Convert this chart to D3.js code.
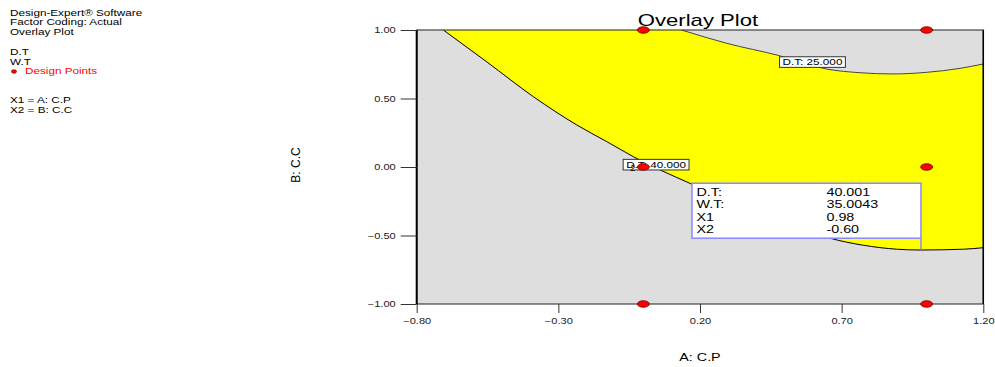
<!DOCTYPE html>
<html>
<head>
<meta charset="utf-8">
<script src="https://cdn.jsdelivr.net/npm/d3@7"></script>
<style>
body { margin: 0; background: #fff; }
svg { display: block; font-family: "Liberation Sans", Arial, sans-serif; }
</style>
</head>
<body>
<svg width="995" height="367"></svg>
<script>
// axis ticks
var xTicks = [-0.80, -0.30, 0.20, 0.70, 1.20];
var yTicks = [-1.00, -0.50, 0.00, 0.50, 1.00];

// design points (coded factors)
var designX = [0, 1, 0, 1, 0, 1];
var designY = [1, 1, 0, 0, -1, -1];
var repX = [0], repY = [0], repText = ["2"];

// D.T = 40 contour (lower edge of the window)
var dt40X = [-0.706, -0.553, -0.388, -0.235, -0.129, -0.035, 0.164, 0.30, 0.45, 0.56, 0.659, 0.776, 0.894, 0.977, 1.13, 1.20];
var dt40Y = [1.000, 0.768, 0.513, 0.307, 0.185, 0.075, -0.119, -0.240, -0.370, -0.455, -0.520, -0.571, -0.600, -0.606, -0.600, -0.589];

// D.T = 25 contour (upper edge of the window)
var dt25X = [0.135, 0.294, 0.476, 0.647, 0.765, 0.882, 1.000, 1.118, 1.20];
var dt25Y = [1.000, 0.903, 0.815, 0.715, 0.688, 0.679, 0.691, 0.720, 0.752];

// contour labels
var labelText = ["D.T: 25.000", "D.T: 40.000"];
var labelX = [0.597, 0.045];
var labelY = [0.766, 0.017];

// flag
var flagNames = ["D.T:", "W.T:", "X1", "X2"];
var flagValues = ["40.001", "35.0043", "0.98", "-0.60"];
var flagX = 0.98, flagY = -0.60;

// side panel
var infoLines = ["Design-Expert\u00ae Software", "Factor Coding: Actual", "Overlay Plot"];
var responses = ["D.T", "W.T"];
var factors = ["X1 = A: C.P", "X2 = B: C.C"];

var SX = 1.3; // the picture is wider than tall, text is stretched too

function stretch(sel) {
	sel.each(function () {
		var len = this.getComputedTextLength();
		d3.select(this).attr("textLength", len * SX).attr("lengthAdjust", "spacingAndGlyphs");
	});
	return sel;
}

var svg = d3.select("svg");

var x = d3.scaleLinear().domain([-0.8, 1.2]).range([416.7, 983.3]);
var y = d3.scaleLinear().domain([-1, 1]).range([304, 30]);

var x0 = x.range()[0], x1 = x.range()[1], yt = y.range()[1], yb = y.range()[0];

svg.append("clipPath").attr("id", "plotclip")
	.append("rect").attr("x", x0).attr("y", yt).attr("width", x1 - x0).attr("height", yb - yt);

var plot = svg.append("g").attr("clip-path", "url(#plotclip)");

plot.append("rect")
	.attr("x", x0).attr("y", yt).attr("width", x1 - x0).attr("height", yb - yt)
	.attr("fill", "#dedede");

var c40 = dt40X.map(function (d, i) { return [d, dt40Y[i]]; });
var c25 = dt25X.map(function (d, i) { return [d, dt25Y[i]]; });

var line = d3.line()
	.x(function (d) { return x(d[0]); })
	.y(function (d) { return y(d[1]); })
	.curve(d3.curveMonotoneX);

var region = line(c40) + "L" + line(c25.slice().reverse()).slice(1) + "Z";

plot.append("path").attr("d", region).attr("fill", "#ffff00");
plot.append("path").attr("d", line(c40)).attr("fill", "none").attr("stroke", "#000").attr("stroke-width", 1);
plot.append("path").attr("d", line(c25)).attr("fill", "none").attr("stroke", "#444").attr("stroke-width", 1);

// frame
svg.append("rect")
	.attr("x", x0).attr("y", yt).attr("width", x1 - x0).attr("height", yb - yt)
	.attr("fill", "none").attr("stroke", "#222").attr("stroke-width", 1);
svg.append("line")
	.attr("x1", x0).attr("x2", x0).attr("y1", yt).attr("y2", yb)
	.attr("stroke", "#000").attr("stroke-width", 2);
svg.append("line")
	.attr("x1", x1).attr("x2", x1).attr("y1", yt).attr("y2", yb)
	.attr("stroke", "#000").attr("stroke-width", 1.5);

// axes
var gx = svg.append("g")
	.attr("transform", "translate(0," + yb + ")")
	.call(d3.axisBottom(x).tickValues(xTicks).tickFormat(d3.format(".2f")).tickSize(9).tickSizeOuter(0).tickPadding(5));
var gy = svg.append("g")
	.attr("transform", "translate(" + x0 + ",0)")
	.call(d3.axisLeft(y).tickValues(yTicks).tickFormat(d3.format(".2f")).tickSize(16).tickSizeOuter(0).tickPadding(5));

[gx, gy].forEach(function (g) {
	g.select(".domain").remove();
	g.selectAll(".tick line").attr("stroke", "#333");
	g.selectAll(".tick text")
		.attr("font-family", "Liberation Sans, Arial, sans-serif")
		.attr("font-size", 8.5)
		.attr("fill", "#222");
	stretch(g.selectAll(".tick text"));
});

// titles
stretch(svg.append("text")
	.attr("x", (x0 + x1) / 2 - 2).attr("y", 25.7)
	.attr("text-anchor", "middle").attr("font-size", 17).attr("fill", "#000")
	.text("Overlay Plot"));

stretch(svg.append("text")
	.attr("x", (x0 + x1) / 2).attr("y", 361)
	.attr("text-anchor", "middle").attr("font-size", 11).attr("fill", "#000")
	.text("A: C.P"));

svg.append("text")
	.attr("transform", "translate(300,165) rotate(-90)")
	.attr("text-anchor", "middle").attr("font-size", 12).attr("fill", "#000")
	.text("B: C.C");

// contour labels
labelText.forEach(function (t, i) {
	var g = svg.append("g");
	var txt = g.append("text")
		.attr("x", x(labelX[i])).attr("y", y(labelY[i]) + 3.3)
		.attr("text-anchor", "middle").attr("font-size", 9).attr("fill", "#000")
		.text(t);
	var w = txt.node().getComputedTextLength() * SX + 6;
	stretch(txt);
	g.insert("rect", "text")
		.attr("x", x(labelX[i]) - w / 2).attr("y", y(labelY[i]) - 5.3)
		.attr("width", w).attr("height", 10.6)
		.attr("fill", "#fff").attr("stroke", "#333").attr("stroke-width", 1);
});

// replicate count
svg.selectAll(".rep")
	.data(repText)
	.enter().append("text")
	.attr("class", "rep")
	.attr("x", function (d, i) { return x(repX[i]) - 13; })
	.attr("y", function (d, i) { return y(repY[i]) + 4; })
	.attr("font-size", 9).attr("fill", "#000")
	.text(function (d) { return d; });

// design points
svg.selectAll(".pt")
	.data(designX)
	.enter().append("ellipse")
	.attr("class", "pt")
	.attr("cx", function (d) { return x(d); })
	.attr("cy", function (d, i) { return y(designY[i]); })
	.attr("rx", 6).attr("ry", 3.3)
	.attr("fill", "#ff0000").attr("stroke", "#600").attr("stroke-width", 0.8);

// flag box
var fx = x(flagX), fy = y(flagY);
var flag = svg.append("g");
flag.append("rect")
	.attr("x", fx - 229).attr("y", fy - 66).attr("width", 229).attr("height", 55)
	.attr("fill", "#fff").attr("stroke", "#8888ff").attr("stroke-width", 1.5);
flag.append("line")
	.attr("x1", fx).attr("x2", fx).attr("y1", fy - 11).attr("y2", fy)
	.attr("stroke", "#8888ff").attr("stroke-width", 1.5);
flagNames.forEach(function (n, i) {
	stretch(flag.append("text")
		.attr("x", fx - 224.5).attr("y", fy - 53.3 + i * 12.4)
		.attr("font-size", 11).attr("fill", "#000").text(n));
	stretch(flag.append("text")
		.attr("x", fx - 94.5).attr("y", fy - 53.3 + i * 12.4)
		.attr("font-size", 11).attr("fill", "#000").text(flagValues[i]));
});

// side panel
var side = svg.append("g").attr("font-size", 9).attr("fill", "#000");
infoLines.forEach(function (t, i) {
	stretch(side.append("text").attr("x", 10).attr("y", 15.5 + i * 9.7).text(t));
});
responses.forEach(function (t, i) {
	stretch(side.append("text").attr("x", 10).attr("y", 55 + i * 9.6).text(t));
});
side.append("ellipse")
	.attr("cx", 14).attr("cy", 71.5).attr("rx", 2.6).attr("ry", 1.8)
	.attr("fill", "#ff0000").attr("stroke", "#400").attr("stroke-width", 0.6);
stretch(side.append("text").attr("x", 25).attr("y", 74).attr("fill", "#ff0000").text("Design Points"));
factors.forEach(function (t, i) {
	stretch(side.append("text").attr("x", 10).attr("y", 103.3 + i * 10).text(t));
});
</script>
</body>
</html>
